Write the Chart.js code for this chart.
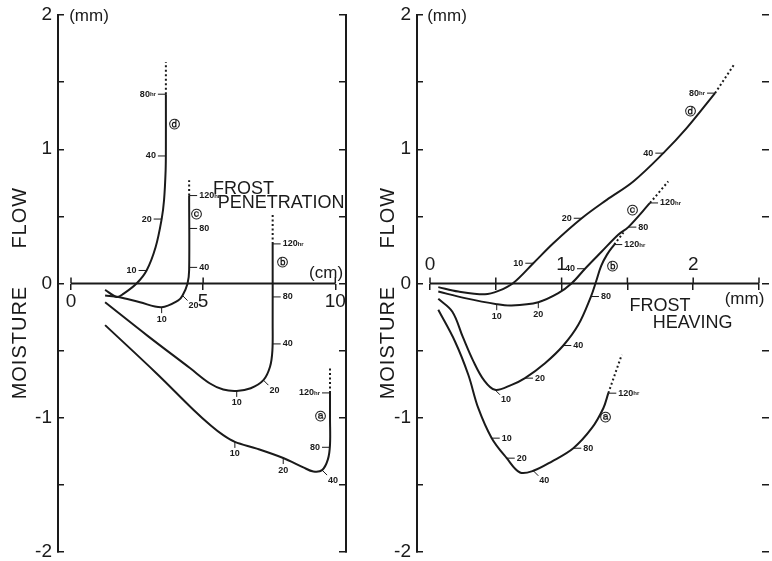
<!DOCTYPE html>
<html>
<head>
<meta charset="utf-8">
<script src="https://cdn.jsdelivr.net/npm/chart.js@4.4.1/dist/chart.umd.min.js"></script>
<style>
  body { margin: 0; background: #fff; }
  #wrap { position: relative; width: 772px; height: 561px; }
  canvas { position: absolute; top: 0; }
  #penChart { left: 0; }
  #heaveChart { left: 366px; }
</style>
</head>
<body>
<div id="wrap">
  <canvas id="penChart" width="386" height="561"></canvas>
  <canvas id="heaveChart" width="406" height="561"></canvas>
</div>
<script>
const INK = '#1a1a1a';
const FONT = '"Liberation Sans", Arial, sans-serif';

// moisture flow axis (mm), same on both panels
const yTicks = [-2, -1.5, -1, -0.5, 0, 0.5, 1, 1.5, 2];
const yLabels = ['-2', '', '-1', '', '0', '', '1', '', '2'];

// left panel: frost penetration (cm)
const penTicks = [0, 5, 10];
const penLabels = ['0', '5', '10'];

const penA = [[1.29, -0.31], [3.24, -0.67], [4.63, -0.94], [5.3, -1.06], [5.76, -1.13], [6.2, -1.18], [7.03, -1.23], [8.03, -1.30], [8.79, -1.37], [9.17, -1.40], [9.5, -1.39], [9.72, -1.31], [9.8, -1.2], [9.8, -1.0], [9.8, -0.815]];
const penATail = [[9.8, -0.815], [9.8, -0.62]];
const penB = [[1.29, -0.14], [2.9, -0.39], [4.5, -0.63], [5.26, -0.745], [5.76, -0.79], [6.27, -0.80], [6.8, -0.78], [7.28, -0.72], [7.53, -0.62], [7.62, -0.5], [7.63, -0.3], [7.63, 0.295]];
const penBTail = [[7.63, 0.295], [7.63, 0.51]];
const penC = [[1.29, -0.09], [1.79, -0.10], [2.61, -0.14], [3.43, -0.176], [4.06, -0.126], [4.22, -0.09], [4.41, 0], [4.47, 0.1], [4.47, 0.655]];
const penCTail = [[4.47, 0.655], [4.47, 0.77]];
const penD = [[1.29, -0.047], [1.73, -0.10], [1.98, -0.077], [2.48, 0], [2.86, 0.097], [3.2, 0.27], [3.43, 0.48], [3.52, 0.62], [3.58, 0.84], [3.59, 1.0], [3.59, 1.41]];
const penDTail = [[3.59, 1.41], [3.59, 1.65]];

// elapsed hours along each curve
const penAMarks = [[6.2, -1.18, '10'], [8.03, -1.30, '20'], [9.5, -1.39, '40'], [9.8, -1.22, '80'], [9.8, -0.815, '120hr']];
const penBMarks = [[6.27, -0.80, '10'], [7.28, -0.72, '20'], [7.63, -0.45, '40'], [7.63, -0.10, '80'], [7.63, 0.295, '120hr']];
const penCMarks = [[3.43, -0.176, '10'], [4.22, -0.09, '20'], [4.47, 0.12, '40'], [4.47, 0.41, '80'], [4.47, 0.655, '120hr']];
const penDMarks = [[2.86, 0.097, '10'], [3.43, 0.48, '20'], [3.59, 0.95, '40'], [3.59, 1.41, '80hr']];
const penASides = ['b', 'b', 'br', 'l', 'l'];
const penBSides = ['b', 'br', 'r', 'r', 'r'];
const penCSides = ['b', 'br', 'r', 'r', 'r'];
const penDSides = ['l', 'l', 'l', 'l'];

const penLetters = [[9.45, -0.994, 'ⓐ'], [8.01, 0.151, 'ⓑ'], [4.76, 0.506, 'ⓒ'], [3.9, 1.18, 'ⓓ']];
const penNotes = [[6.53, 0.706, 'FROST'], [7.95, 0.602, 'PENETRATION'], [9.65, 0.074, '(cm)'], [0.68, 1.99, '(mm)']];

// right panel: frost heaving (mm)
const heaveTicks = [0, 0.5, 1, 1.5, 2, 2.5];
const heaveLabels = ['0', '', '1', '', '2', ''];

const heaveA = [[0.063, -0.196], [0.19, -0.432], [0.291, -0.68], [0.367, -0.929], [0.469, -1.152], [0.583, -1.301], [0.684, -1.408], [0.785, -1.395], [0.925, -1.326], [1.089, -1.227], [1.229, -1.078], [1.317, -0.929], [1.355, -0.817]];
const heaveATail = [[1.355, -0.817], [1.457, -0.531]];
const heaveB = [[0.063, -0.114], [0.17, -0.21], [0.25, -0.40], [0.33, -0.58], [0.41, -0.72], [0.494, -0.792], [0.62, -0.755], [0.722, -0.705], [0.874, -0.594], [1.013, -0.462], [1.127, -0.308], [1.223, -0.097], [1.262, 0.015], [1.3, 0.13], [1.345, 0.215], [1.40, 0.29]];
const heaveBTail = [[1.40, 0.29], [1.47, 0.38]];
const heaveC = [[0.063, -0.06], [0.266, -0.109], [0.507, -0.154], [0.62, -0.164], [0.823, -0.139], [0.975, -0.072], [1.077, 0.002], [1.178, 0.11], [1.305, 0.238], [1.43, 0.363], [1.507, 0.42], [1.672, 0.6]];
const heaveCTail = [[1.672, 0.6], [1.81, 0.76]];
const heaveD = [[0.063, -0.027], [0.215, -0.06], [0.418, -0.08], [0.52, -0.055], [0.628, 0.0], [0.785, 0.151], [0.937, 0.30], [1.153, 0.486], [1.343, 0.623], [1.545, 0.76], [1.773, 0.971], [1.95, 1.157], [2.166, 1.418]];
const heaveDTail = [[2.166, 1.418], [2.31, 1.63]];

const heaveAMarks = [[0.469, -1.152, '10'], [0.583, -1.301, '20'], [0.785, -1.395, '40'], [1.089, -1.227, '80'], [1.355, -0.817, '120hr']];
const heaveBMarks = [[0.494, -0.792, '10'], [0.722, -0.705, '20'], [1.013, -0.462, '40'], [1.223, -0.097, '80'], [1.40, 0.29, '120hr']];
const heaveCMarks = [[0.507, -0.154, '10'], [0.823, -0.139, '20'], [1.178, 0.11, '40'], [1.507, 0.42, '80'], [1.672, 0.6, '120hr']];
const heaveDMarks = [[0.785, 0.151, '10'], [1.153, 0.486, '20'], [1.773, 0.971, '40'], [2.166, 1.418, '80hr']];
const heaveASides = ['r', 'r', 'br', 'r', 'r'];
const heaveBSides = ['br', 'r', 'r', 'r', 'r'];
const heaveCSides = ['b', 'b', 'l', 'r', 'r'];
const heaveDSides = ['l', 'l', 'l', 'l'];

const heaveLetters = [[1.33, -1.003, 'ⓐ'], [1.388, 0.119, 'ⓑ'], [1.537, 0.541, 'ⓒ'], [1.983, 1.276, 'ⓓ']];
const heaveNotes = [[1.748, -0.171, 'FROST'], [1.995, -0.298, 'HEAVING'], [2.39, -0.119, '(mm)'], [0.129, 1.99, '(mm)']];

// where the rotated axis words sit, in moisture-flow units
const titleWords = [[0.49, 'FLOW'], [-0.44, 'MOISTURE']];

Chart.defaults.font.family = FONT;
Chart.defaults.color = INK;

function lineSet(points, dotted) {
    return {
        data: points.map(([x, y]) => ({ x, y })),
        showLine: true,
        borderColor: INK,
        borderWidth: 2,
        borderDash: dotted ? [2, 2.5] : [],
        pointRadius: 0,
        tension: dotted ? 0 : 0.35,
        fill: false
    };
}

//  hour label, small "hr" after the number
function drawHour(ctx, label, x, y, align) {
    const num = label.replace('hr', '');
    const hr = label.endsWith('hr') ? 'hr' : '';
    ctx.font = 'bold 9px ' + FONT;
    const wNum = ctx.measureText(num).width;
    ctx.font = 'bold 6px ' + FONT;
    const wHr = hr ? ctx.measureText(hr).width : 0;
    const w = wNum + wHr;
    const left = align === 'right' ? x - w : align === 'center' ? x - w / 2 : x;
    ctx.textAlign = 'left';
    ctx.textBaseline = 'middle';
    ctx.font = 'bold 9px ' + FONT;
    ctx.fillText(num, left, y);
    if (hr) {
        ctx.font = 'bold 6px ' + FONT;
        ctx.fillText(hr, left + wNum, y + 0.5);
    }
}

function figurePlugin(p) {
    return {
        id: 'figure_' + p.canvas,
        afterDraw(chart) {
            const { ctx, chartArea } = chart;
            const xs = chart.scales.x, ys = chart.scales.y;
            const px = v => xs.getPixelForValue(v);
            const py = v => ys.getPixelForValue(v);
            const y0 = py(0);
            ctx.save();
            ctx.strokeStyle = INK;
            ctx.fillStyle = INK;

            // x axis only runs between its first and last tick
            ctx.lineWidth = 1.8;
            ctx.beginPath();
            ctx.moveTo(px(p.xTicks[0]), y0);
            ctx.lineTo(px(p.xTicks[p.xTicks.length - 1]), y0);
            ctx.stroke();
            ctx.lineWidth = 1.5;
            p.xTicks.forEach(v => {
                ctx.beginPath();
                ctx.moveTo(px(v), y0);
                ctx.lineTo(px(v), y0 - 6);
                ctx.stroke();
            });

            // hour ticks on the curves
            ctx.lineWidth = 1;
            p.marks.forEach((marks, k) => {
                marks.forEach(([mx, my, label], i) => {
                    const side = p.sides[k][i];
                    const X = px(mx), Y = py(my);
                    let x1 = X, y1 = Y, tx, ty, align;
                    if (side === 'l') { x1 = X - 8; tx = X - 10; ty = Y; align = 'right'; }
                    else if (side === 'r') { x1 = X + 8; tx = X + 10; ty = Y; align = 'left'; }
                    else if (side === 'b') { y1 = Y + 6; tx = X; ty = Y + 12; align = 'center'; }
                    else { x1 = X + 5; y1 = Y + 5; tx = X + 6; ty = Y + 10; align = 'left'; }
                    ctx.beginPath();
                    ctx.moveTo(X, Y);
                    ctx.lineTo(x1, y1);
                    ctx.stroke();
                    drawHour(ctx, label, tx, ty, align);
                });
            });

            // curve letters
            ctx.font = 'bold 11px "DejaVu Sans"';
            ctx.textAlign = 'center';
            ctx.textBaseline = 'middle';
            p.letters.forEach(([lx, ly, t]) => ctx.fillText(t, px(lx), py(ly)));

            // axis names and units
            p.notes.forEach(([nx, ny, t]) => {
                ctx.font = (t.startsWith('(') ? '17px ' : '18px ') + FONT;
                ctx.fillText(t, px(nx), py(ny));
            });

            // rotated MOISTURE FLOW
            ctx.font = '20px ' + FONT;
            ctx.letterSpacing = '1px';
            titleWords.forEach(([v, t]) => {
                ctx.save();
                ctx.translate(chartArea.left - p.titleOffset, py(v));
                ctx.rotate(-Math.PI / 2);
                ctx.fillText(t, 0, 0);
                ctx.restore();
            });
            ctx.restore();
        }
    };
}

function makeChart(p) {
    const ctx = document.getElementById(p.canvas).getContext('2d');
    const datasets = p.curves.map(c => lineSet(c, false)).concat(p.tails.map(c => lineSet(c, true)));
    const setTicks = vals => s => { s.ticks = vals.map(v => ({ value: v })); };

    return new Chart(ctx, {
        type: 'scatter',
        data: { datasets },
        options: {
            responsive: false,
            animation: false,
            events: [],
            layout: { padding: p.padding },
            plugins: { legend: { display: false }, tooltip: { enabled: false } },
            scales: {
                x: {
                    type: 'linear',
                    min: p.xMin,
                    max: p.xMax,
                    position: { y: 0 },
                    afterBuildTicks: setTicks(p.xTicks),
                    afterFit: s => { s.paddingLeft = 0; s.paddingRight = 0; },
                    ticks: {
                        autoSkip: false,
                        maxRotation: 0,
                        padding: p.xLabelPad,
                        color: INK,
                        font: { size: 19 },
                        callback: (v, i) => p.xLabels[i]
                    },
                    grid: { drawOnChartArea: false, tickLength: 6, color: INK, lineWidth: 1.5 },
                    border: { display: false }
                },
                y: {
                    type: 'linear',
                    position: 'left',
                    min: -2,
                    max: 2,
                    afterBuildTicks: setTicks(yTicks),
                    afterFit: s => { s.width = p.yAxisWidth; s.paddingTop = 0; s.paddingBottom = 0; },
                    ticks: {
                        autoSkip: false,
                        padding: 12,
                        color: INK,
                        font: { size: 19 },
                        callback: (v, i) => yLabels[i]
                    },
                    grid: { drawOnChartArea: false, tickLength: -6, color: INK, lineWidth: 1.5 },
                    border: { display: true, width: 2, color: INK }
                },
                y2: {
                    type: 'linear',
                    position: 'right',
                    min: -2,
                    max: 2,
                    afterBuildTicks: setTicks(yTicks),
                    afterFit: s => { s.width = 0; s.paddingTop = 0; s.paddingBottom = 0; },
                    ticks: { display: false },
                    grid: { drawOnChartArea: false, tickLength: -7, color: INK, lineWidth: 1.5 },
                    border: { display: p.rightBorder, width: 2, color: INK }
                }
            }
        },
        plugins: [figurePlugin(p)]
    });
}

document.addEventListener('DOMContentLoaded', () => {
    makeChart({
        canvas: 'penChart',
        xMin: -0.492, xMax: 10.405,
        xTicks: penTicks, xLabels: penLabels, xLabelPad: 1.3,
        yAxisWidth: 58, rightBorder: true, titleOffset: 38,
        padding: { left: 0, top: 15, right: 40, bottom: 9 },
        curves: [penA, penB, penC, penD],
        tails: [penATail, penBTail, penCTail, penDTail],
        marks: [penAMarks, penBMarks, penCMarks, penDMarks],
        sides: [penASides, penBSides, penCSides, penDSides],
        letters: penLetters, notes: penNotes
    });
    makeChart({
        canvas: 'heaveChart',
        xMin: -0.0988, xMax: 2.576,
        xTicks: heaveTicks, xLabels: heaveLabels, xLabelPad: -36.4,
        yAxisWidth: 51, rightBorder: false, titleOffset: 29,
        padding: { left: 0, top: 15, right: 3, bottom: 9 },
        curves: [heaveA, heaveB, heaveC, heaveD],
        tails: [heaveATail, heaveBTail, heaveCTail, heaveDTail],
        marks: [heaveAMarks, heaveBMarks, heaveCMarks, heaveDMarks],
        sides: [heaveASides, heaveBSides, heaveCSides, heaveDSides],
        letters: heaveLetters, notes: heaveNotes
    });
});
</script>
</body>
</html>
